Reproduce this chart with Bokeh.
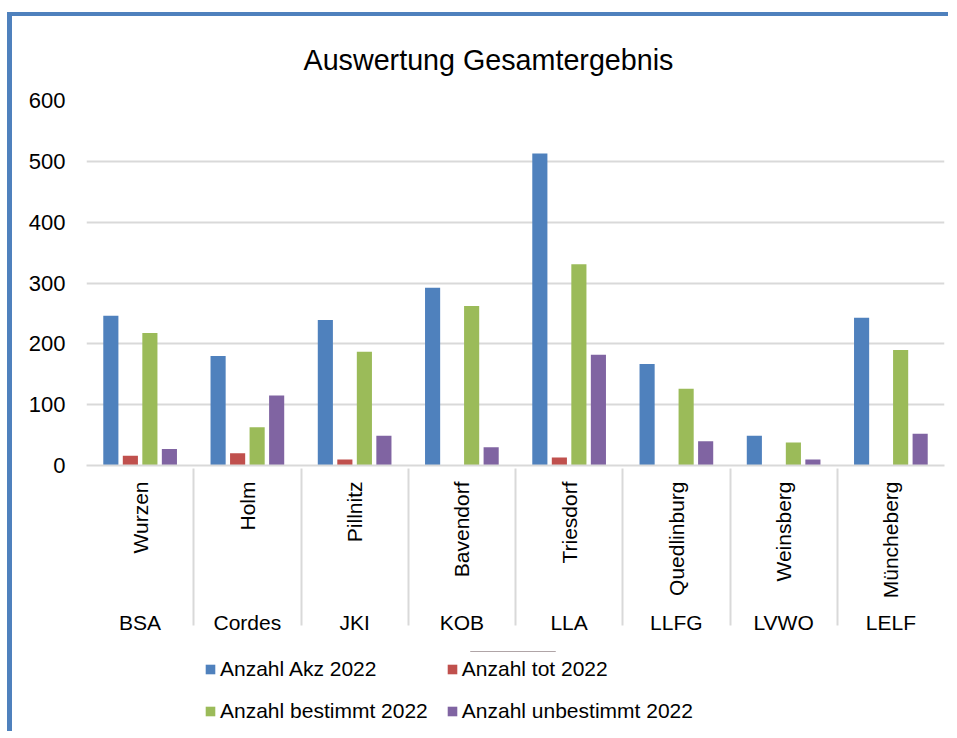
import math
from bokeh.plotting import figure
from bokeh.layouts import column
from bokeh.models import FactorRange, Range1d, FixedTicker, ColumnDataSource, Legend, LegendItem
from bokeh.transform import dodge
from bokeh.embed import file_html
from bokeh.resources import INLINE

groups = ["BSA", "Cordes", "JKI", "KOB", "LLA", "LLFG", "LVWO", "LELF"]
sites = ["Wurzen", "Holm", "Pillnitz", "Bavendorf", "Triesdorf", "Quedlinburg", "Weinsberg", "Müncheberg"]
akz = [246, 180, 239, 292, 513, 167, 49, 243]
tot = [16, 20, 10, 0, 13, 0, 0, 0]
bestimmt = [218, 63, 187, 262, 331, 126, 38, 190]
unbestimmt = [27, 115, 49, 30, 182, 40, 10, 52]
series_labels = ["Anzahl Akz 2022", "Anzahl tot 2022", "Anzahl bestimmt 2022", "Anzahl unbestimmt 2022"]
colors = ["#4F81BD", "#C0504D", "#9BBB59", "#8064A2"]
y_ticks = [0, 100, 200, 300, 400, 500, 600]

FONT = "Liberation Sans"
BORDER = "#4F81BD"
factors = list(zip(groups, sites))
src = ColumnDataSource(dict(x=factors, akz=akz, tot=tot, bestimmt=bestimmt, unbestimmt=unbestimmt))

p = figure(
    x_range=FactorRange(*factors, group_padding=0, range_padding=0, factor_padding=0),
    y_range=Range1d(0, 600),
    frame_width=853, frame_height=361,
    min_border_left=74, min_border_right=9, min_border_top=84, min_border_bottom=190,
    output_backend="svg", toolbar_location=None,
    title="Auswertung Gesamtergebnis",
)
p.styles = {"border-left": f"5px solid {BORDER}", "border-top": f"4px solid {BORDER}",
            "margin-top": "12px", "margin-left": "7px"}
p.outline_line_color = None
p.background_fill_color = "white"
p.border_fill_color = "white"

p.title.text_font = FONT
p.title.text_font_size = "28.7px"
p.title.text_font_style = "normal"
p.title.text_color = "black"
p.title.align = "left"
p.title.offset = 217
p.title.standoff = 50

offsets = [-0.273, -0.091, 0.091, 0.273]
cols = ["akz", "tot", "bestimmt", "unbestimmt"]
for c, off, col in zip(cols, offsets, colors):
    p.vbar(x=dodge("x", off, range=p.x_range), top=c, width=0.141, source=src,
           fill_color=col, line_color=None)

# y axis
p.yaxis.ticker = FixedTicker(ticks=y_ticks)
p.yaxis.axis_line_color = None
p.yaxis.major_tick_line_color = None
p.yaxis.minor_tick_line_color = None
p.yaxis.major_label_text_font = FONT
p.yaxis.major_label_text_font_size = "22px"
p.yaxis.major_label_text_color = "black"
p.yaxis.major_label_standoff = 15
p.ygrid.grid_line_color = "#D9D9D9"
p.ygrid.grid_line_width = 2
p.xgrid.grid_line_color = None

# x axis
xa = p.xaxis[0]
xa.axis_line_color = "#D9D9D9"
xa.axis_line_width = 2
xa.major_tick_line_color = None
xa.minor_tick_line_color = None
xa.major_label_orientation = math.pi / 2
xa.major_label_text_font = FONT
xa.major_label_text_font_size = "21px"
xa.major_label_text_color = "black"
xa.major_label_standoff = 10
xa.group_text_font = FONT
xa.group_text_font_size = "21px"
xa.group_text_font_style = "normal"
xa.group_text_color = "black"
xa.separator_line_color = "#D9D9D9"
xa.separator_line_width = 2

# legend strip below the chart
pl = figure(
    x_range=Range1d(0, 1), y_range=Range1d(0, 1),
    width=936, height=80,
    min_border_left=0, min_border_right=0, min_border_top=0, min_border_bottom=0,
    x_axis_location=None, y_axis_location=None,
    output_backend="svg", toolbar_location=None,
)
pl.styles = {"border-left": f"5px solid {BORDER}", "margin-left": "7px"}
pl.outline_line_color = None
pl.xgrid.grid_line_color = None
pl.ygrid.grid_line_color = None
pl.background_fill_color = "white"
pl.border_fill_color = "white"

# legend proxies: zero-height bars at each series' first value (outside this strip's range)
first_vals = [akz[0], tot[0], bestimmt[0], unbestimmt[0]]
leg_renderers = []
for col, v in zip(colors, first_vals):
    r = pl.vbar(x=[0.5], top=[v], bottom=[v], width=0.1, fill_color=col, line_color=None)
    leg_renderers.append(r)

legend = Legend(
    items=[LegendItem(label=l, renderers=[r]) for l, r in zip(series_labels, leg_renderers)],
    orientation="horizontal", ncols=2,
    label_text_font=FONT, label_text_font_size="21px", label_text_color="black",
    glyph_width=12, glyph_height=12, label_standoff=4, spacing=18,
    border_line_color=None, background_fill_alpha=0, padding=0, margin=0,
    location=(118, 8),
)
pl.add_layout(legend, "center")

layout = column(p, pl, spacing=0)
open("out.html", "w").write(file_html(layout, INLINE))
